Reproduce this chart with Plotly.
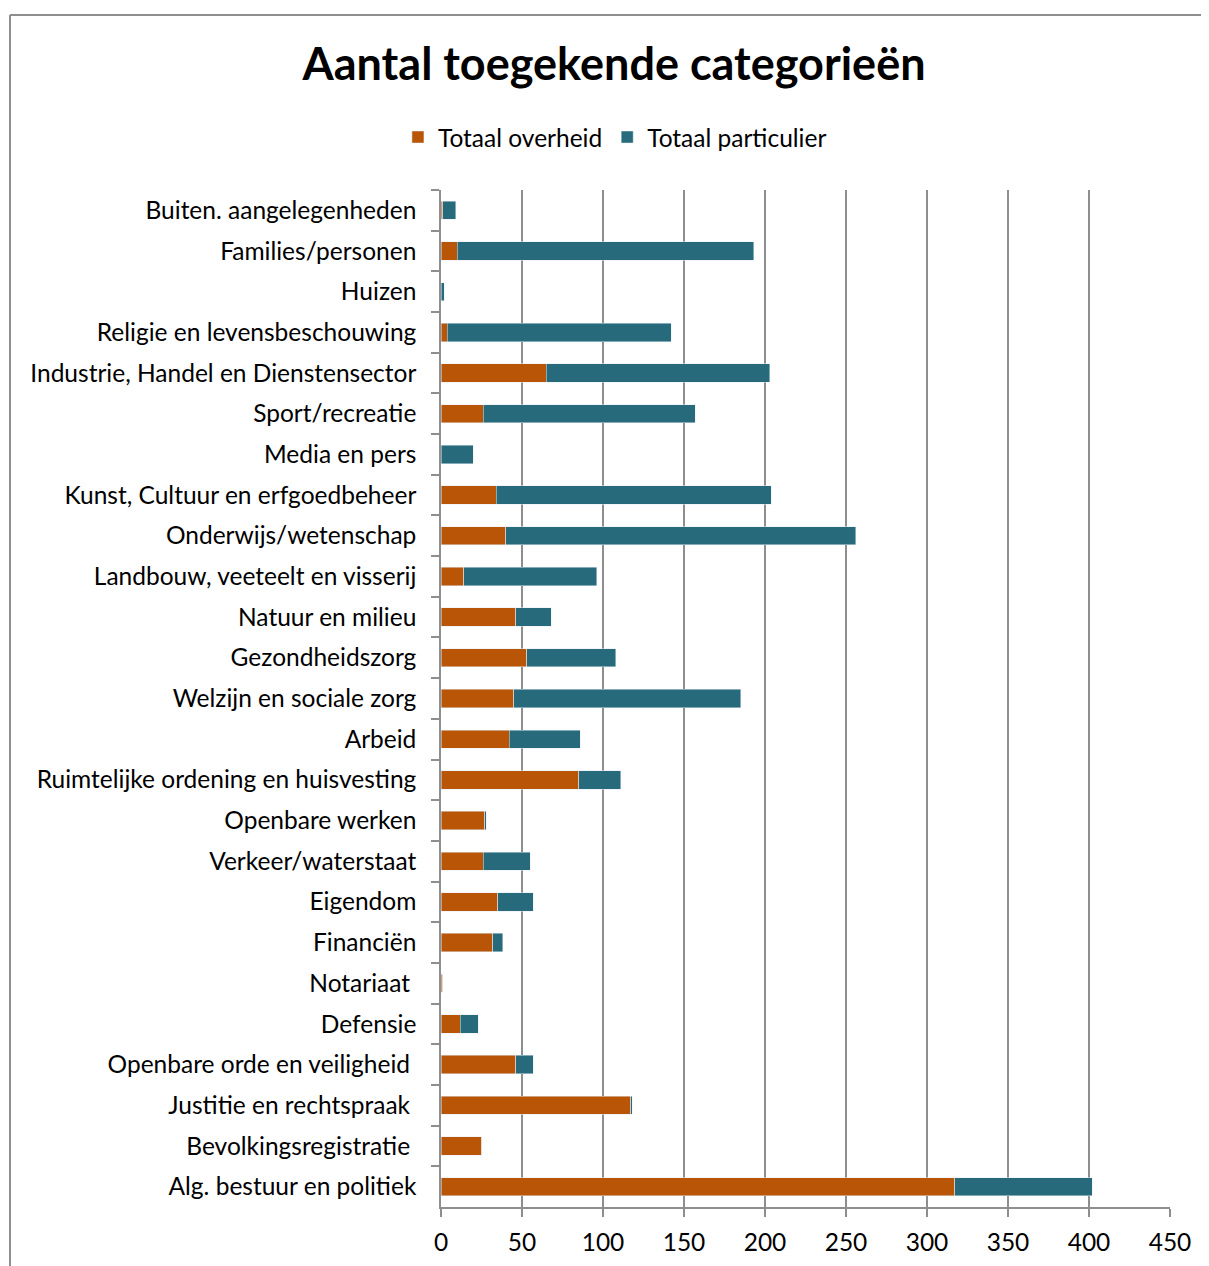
import plotly.graph_objects as go

# categories, top to bottom as in the chart
categories = [
    'Buiten. aangelegenheden', 'Families/personen', 'Huizen',
    'Religie en levensbeschouwing', 'Industrie, Handel en Dienstensector',
    'Sport/recreatie', 'Media en pers', 'Kunst, Cultuur en erfgoedbeheer',
    'Onderwijs/wetenschap', 'Landbouw, veeteelt en visserij',
    'Natuur en milieu', 'Gezondheidszorg', 'Welzijn en sociale zorg',
    'Arbeid', 'Ruimtelijke ordening en huisvesting', 'Openbare werken',
    'Verkeer/waterstaat', 'Eigendom', 'Financiën', 'Notariaat\u00a0',
    'Defensie', 'Openbare orde en veiligheid\u00a0',
    'Justitie en rechtspraak\u00a0', 'Bevolkingsregistratie\u00a0',
    'Alg. bestuur en politiek',
]
overheid = [1, 10, 0, 4, 65, 26, 0, 34, 40, 14, 46, 53, 45, 42, 85, 27,
            26, 35, 32, 1, 12, 46, 117, 25, 317]
particulier = [8, 183, 2, 138, 138, 131, 20, 170, 216, 82, 22, 55, 140, 44,
               26, 1, 29, 22, 6, 0, 11, 11, 1, 0, 85]
x_ticks = [0, 50, 100, 150, 200, 250, 300, 350, 400, 450]

orange = '#B85507'
teal = '#276A7B'
grid = '#8E8E8E'
font = 'Lato'

fig = go.Figure()
fig.add_trace(go.Bar(y=categories, x=overheid, orientation='h',
                     name='Totaal overheid', marker_color=orange))
fig.add_trace(go.Bar(y=categories, x=particulier, orientation='h',
                     name='Totaal particulier', marker_color=teal))

# page body has an 8px margin, so the figure is a bit smaller than the window
fig.update_layout(
    barmode='stack', bargap=0.55,
    width=1201, height=1258,
    margin=dict(l=433, r=39, t=182, b=59),
    plot_bgcolor='white', paper_bgcolor='white',
    font=dict(family=font, size=24.5, color='black'),
    title=dict(text='<b>Aantal toegekende categorieën</b>',
               font=dict(family=font, size=45, color='black'),
               x=606 / 1201, xanchor='center', y=1 - 56 / 1258, yanchor='middle'),
    legend=dict(orientation='h', x=0.2386, xanchor='center',
                y=1.052, yanchor='middle', font=dict(size=24.5),
                traceorder='normal', itemwidth=30),
    showlegend=True,
)
fig.update_xaxes(range=[0, 450], tickvals=x_ticks, showgrid=True,
                 gridcolor=grid, gridwidth=1.5, zeroline=False,
                 showline=True, linecolor=grid, linewidth=1.5,
                 ticks='outside', ticklen=8, tickcolor=grid, tickwidth=1.5,
                 ticklabelstandoff=5, tickfont=dict(size=24.5),
                 automargin=False)
fig.update_yaxes(autorange='reversed', showgrid=False,
                 showline=True, linecolor=grid, linewidth=1.5,
                 ticks='outside', tickson='boundaries', ticklen=8,
                 tickcolor=grid, tickwidth=1.5, ticklabelstandoff=18,
                 tickfont=dict(size=24.5), automargin=False)

# chart frame (top and left edges visible)
fig.add_shape(type='line', xref='paper', yref='paper',
              x0=-0.5912, x1=-0.5912, y0=1.1721, y1=-0.07,
              line=dict(color=grid, width=2))
fig.add_shape(type='line', xref='paper', yref='paper',
              x0=-0.5912, x1=1.07, y0=1.1721, y1=1.1721,
              line=dict(color=grid, width=2))

fig.write_html('out.html')
